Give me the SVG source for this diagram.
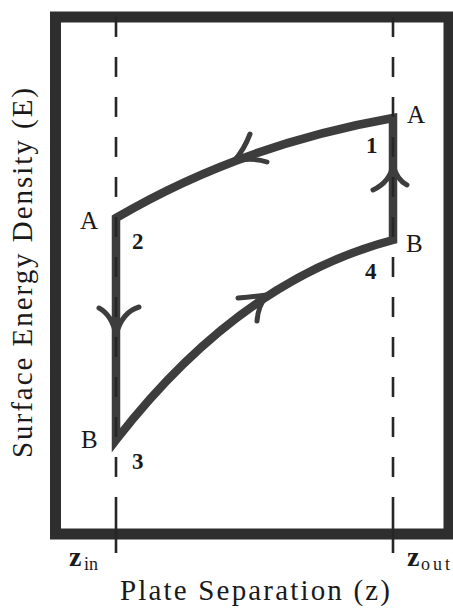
<svg xmlns="http://www.w3.org/2000/svg" width="453" height="610" viewBox="0 0 453 610">
<style>
.lbl{font-family:"Liberation Serif","DejaVu Serif",serif;fill:#1a1a1a;}
.guide{stroke:#262626;stroke-width:2.6;fill:none;stroke-dasharray:20 20;}
.cyc{stroke:#3d3d3d;stroke-width:8.5;fill:none;stroke-linejoin:miter;}
.barb{stroke:#3d3d3d;stroke-width:5;fill:none;stroke-linecap:round;}
</style>
<rect width="453" height="610" fill="#ffffff"/>
<g id="frame">
<rect x="55.5" y="17" width="393.5" height="517" fill="none" stroke="#2e2e2e" stroke-width="11"/>
</g>
<g id="connectors">
<path class="cyc" d="M393,118 Q240,145 116,218 L116,440 Q240,280 393,240 Z"/>
<path class="barb" d="M234,161 Q244,150 250,134"/>
<path class="barb" d="M234,161 Q252,157 267,162"/>
<path class="barb" d="M393,165 Q390,182 373,190"/>
<path class="barb" d="M393,165 Q397,180 407,185"/>
<path class="barb" d="M267,295 Q252,297 238,298"/>
<path class="barb" d="M267,295 Q258,306 257,321"/>
<path class="barb" d="M116,335 Q112,315 99,308"/>
<path class="barb" d="M116,335 Q122,312 139,307"/>
</g>
<g id="guides">
<line class="guide" x1="116" y1="17" x2="116" y2="490"/>
<line x1="116" y1="497" x2="116" y2="553" stroke="#262626" stroke-width="2.6"/>
<line class="guide" x1="393" y1="17" x2="393" y2="490"/>
<line x1="393" y1="497" x2="393" y2="553" stroke="#262626" stroke-width="2.6"/>
</g>
<g id="state1">
<text class="lbl" x="407" y="123" font-size="25">A</text>
<text class="lbl" x="366" y="153" font-size="23" font-weight="bold">1</text>
</g>
<g id="state2">
<text class="lbl" x="80" y="229" font-size="25">A</text>
<text class="lbl" x="132" y="249" font-size="23" font-weight="bold">2</text>
</g>
<g id="state3">
<text class="lbl" x="81" y="448" font-size="25">B</text>
<text class="lbl" x="132" y="469" font-size="23" font-weight="bold">3</text>
</g>
<g id="state4">
<text class="lbl" x="406" y="252" font-size="25">B</text>
<text class="lbl" x="365" y="279" font-size="23" font-weight="bold">4</text>
</g>
<g id="axes">
<text class="lbl" x="69" y="566" font-size="28" font-weight="bold">z</text>
<text class="lbl" x="84" y="570" font-size="18">in</text>
<text class="lbl" x="407" y="566" font-size="28" font-weight="bold">z</text>
<text class="lbl" x="421" y="570" font-size="18" textLength="29">out</text>
<text class="lbl" x="120" y="600" font-size="29" textLength="270" lengthAdjust="spacing">Plate Separation (z)</text>
<text class="lbl" transform="rotate(-90)" x="-273" y="32" font-size="29" text-anchor="middle" textLength="370" lengthAdjust="spacing">Surface Energy Density (E)</text>
</g>
</svg>
